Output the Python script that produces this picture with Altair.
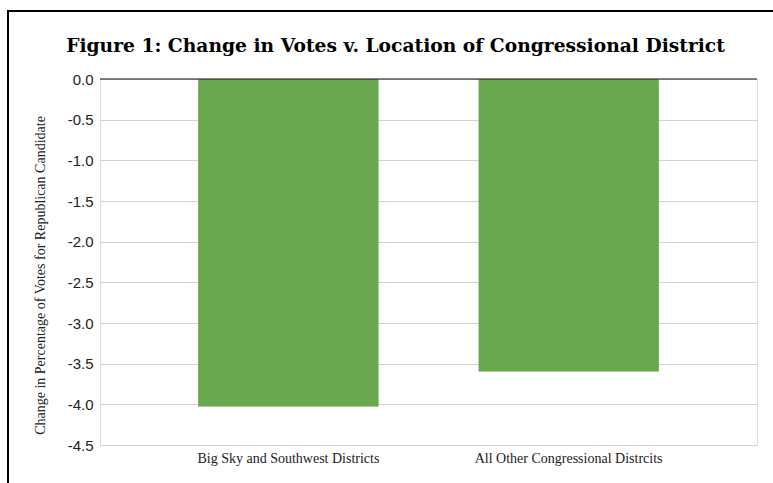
import altair as alt
import pandas as pd

categories = ["Big Sky and Southwest Districts", "All Other Congressional Distrcits"]
values = [-4.03, -3.6]
y_ticks = [0.0, -0.5, -1.0, -1.5, -2.0, -2.5, -3.0, -3.5, -4.0, -4.5]

df = pd.DataFrame({"district": categories, "change": values})

SERIF = "Liberation Serif"
SANS = "Liberation Sans"

x_enc = alt.X(
    "district:N",
    sort=categories,
    scale=alt.Scale(paddingInner=0.355, paddingOuter=0.35),
    axis=alt.Axis(
        title=None, labelAngle=0, labelFont=SERIF, labelFontSize=14,
        labelColor="#222", domain=False, ticks=False, labelPadding=6,
        labelLimit=400,
    ),
)

bars = alt.Chart(df).mark_bar(color="#6aa84f", cornerRadiusEnd=2).encode(
    x=x_enc,
    y=alt.Y(
        "change:Q",
        scale=alt.Scale(domain=[-4.5, 0], nice=False),
        axis=alt.Axis(
            values=y_ticks,
            labelExpr="replace(format(datum.value, '.1f'), '\u2212', '-')",
            labelFont=SANS, labelFontSize=15,
            labelColor="#222", domain=False, ticks=False, labelPadding=7,
            gridColor="#d3d3d3", gridWidth=1,
            title="Change in Percentage of Votes for Republican Candidate",
            titleFont=SERIF, titleFontSize=14, titleFontWeight="normal",
            titleColor="#222", titleAngle=270, titleX=-60, titleY=196,
            titleAlign="center", titleBaseline="middle",
        ),
    ),
)

zero = alt.Chart(pd.DataFrame({"z": [0.0]})).mark_rule(color="#111", strokeWidth=1).encode(
    y="z:Q"
)

frame = alt.Chart(alt.Data(values=[{}])).mark_rect(
    fill=None, stroke="black", strokeWidth=2
).encode(
    x=alt.value(-92), x2=alt.value(800), y=alt.value(-68), y2=alt.value(500)
)

chart = alt.layer(frame, bars, zero).properties(
    width=657,
    height=366,
    autosize=alt.AutoSizeParams(type="none"),
    padding={"left": 100, "top": 79, "right": 16, "bottom": 38},
    title=alt.TitleParams(
        "Figure 1: Change in Votes v. Location of Congressional District",
        font="DejaVu Serif", fontSize=18.7, fontWeight="bold", color="black",
        anchor="middle", offset=0, dy=46, dx=-33, frame="group",
    ),
).configure_view(stroke=None).configure(background="white")

chart.save("out.html", embed_options={"renderer": "svg", "actions": False})
